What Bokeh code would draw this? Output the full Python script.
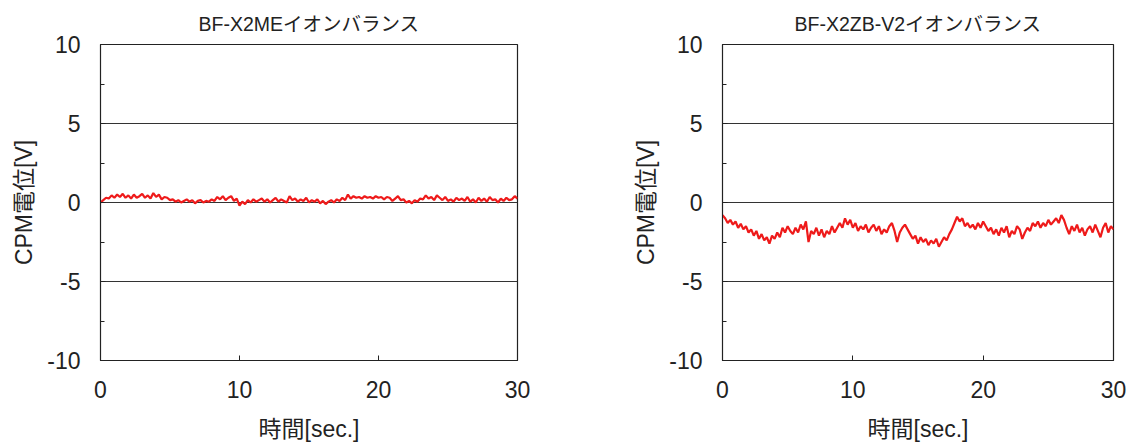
from bokeh.plotting import figure
from bokeh.layouts import row
from bokeh.models import FixedTicker, Range1d
from bokeh.embed import file_html
from bokeh.resources import INLINE

# ---- data ----
titles = ["BF-X2MEイオンバランス", "BF-X2ZB-V2イオンバランス"]
x_label = "時間[sec.]"
y_label = "CPM電位[V]"
x_ticks = [0, 10, 20, 30]
y_ticks = [-10, -5, 0, 5, 10]
y_tick_labels = ["-10", "-5", "0", "5", "10"]
y_minor = [-7.5, -2.5, 2.5, 7.5]
grid_levels = [-5, 0, 5]
sample_step = 0.2  # seconds between samples

me_values = [
    0.0, 0.15, 0.3, 0.25, 0.45, 0.3,
    0.5, 0.35, 0.55, 0.3, 0.45,
    0.25, 0.5, 0.3, 0.4, 0.55,
    0.3, 0.45, 0.25, 0.6, 0.35,
    0.5, 0.2, 0.35, 0.3, 0.15,
    0.2, 0.05, 0.15, 0.0, 0.1,
    0.2, 0.05, 0.15, -0.05, 0.1,
    0.15, 0.0, 0.1, 0.05, 0.2,
    0.1, 0.35, 0.2, 0.4, 0.15,
    0.3, 0.4, 0.1, 0.25, -0.2,
    0.05, -0.1, 0.15, 0.0, 0.2,
    0.05, 0.15, 0.25, 0.05, 0.2,
    0.0, 0.15, 0.3, 0.05, 0.2,
    0.1, 0.0, 0.4, 0.15, 0.25,
    0.05, 0.2, 0.1, 0.3, 0.0,
    0.15, 0.05, 0.2, -0.05, 0.1,
    -0.1, 0.05, 0.15, 0.0, 0.2,
    0.1, 0.3, 0.15, 0.5, 0.25,
    0.4, 0.3, 0.35, 0.25, 0.4,
    0.3, 0.35, 0.25, 0.4, 0.3,
    0.35, 0.2, 0.35, 0.3, 0.1,
    0.25, 0.4, 0.15, 0.2, 0.0,
    0.1, -0.05, 0.15, 0.05, 0.25,
    0.2, 0.45, 0.25, 0.35, 0.15,
    0.45, 0.3, 0.15, 0.35, 0.1,
    0.2, 0.05, 0.3, 0.15, 0.25,
    0.1, 0.35, 0.05, 0.2, 0.0,
    0.3, 0.1, 0.25, 0.05, 0.35,
    0.15, 0.2, 0.0, 0.25, 0.1,
    0.3, 0.15, 0.2, 0.4, 0.25,
]

zb_values = [
    -0.8, -1.0, -1.3, -1.1, -1.4, -1.2,
    -1.6, -1.35, -1.7, -1.5, -1.9,
    -1.7, -2.1, -1.8, -2.3, -2.0,
    -2.4, -2.2, -2.6, -2.1, -2.3,
    -1.9, -2.2, -1.6, -1.9, -1.5,
    -1.8, -2.0, -1.6, -1.9, -1.4,
    -1.7, -1.2, -2.5, -1.8, -2.0,
    -1.6, -2.1, -1.7, -2.2, -1.8,
    -2.0, -1.5, -1.9, -1.6, -1.3,
    -1.6, -1.0, -1.4, -1.1, -1.6,
    -1.3, -1.8, -1.5, -1.7, -1.4,
    -1.9, -1.6, -1.4, -1.8, -1.5,
    -2.0, -1.7, -1.9, -1.5, -1.3,
    -1.8, -2.5, -1.9, -1.6, -1.4,
    -1.7, -2.0, -2.3, -2.1, -2.6,
    -2.2, -2.5, -2.3, -2.7, -2.4,
    -2.6, -2.3, -2.8, -2.5, -2.2,
    -2.4, -2.0, -1.7, -1.3, -0.9,
    -1.2, -1.0, -1.5, -1.3, -1.6,
    -1.4, -1.7, -1.3, -1.6, -1.2,
    -1.5, -1.8, -1.6, -2.0, -1.7,
    -2.1, -1.6, -1.9, -1.5, -2.2,
    -1.8, -2.0, -1.5, -1.7, -2.3,
    -1.9, -1.6, -1.8, -1.3, -1.5,
    -1.2, -1.6, -1.3, -1.5, -1.1,
    -1.4, -1.2, -1.0, -1.3, -0.8,
    -1.1, -1.6, -2.0, -1.5, -1.8,
    -1.4, -1.9, -1.6, -2.1, -1.7,
    -1.5, -1.9, -1.4, -1.8, -2.2,
    -1.6, -1.3, -1.9, -1.5, -1.7,
]

time_sec = [round(i * sample_step, 1) for i in range(len(me_values))]

LATIN = "Liberation Sans, Noto Sans CJK JP"
INK = "#222222"


def make_panel(title, values, width, height, left, right, top, bottom):
    p = figure(width=width, height=height,
               x_range=Range1d(0, 30), y_range=Range1d(-10, 10),
               output_backend="svg", toolbar_location=None,
               min_border_left=left, min_border_right=right,
               min_border_top=top, min_border_bottom=bottom)
    p.background_fill_color = "white"
    p.border_fill_color = "white"
    p.outline_line_color = INK
    p.outline_line_width = 1.2

    p.title.text = title
    p.title.align = "center"
    p.title.text_font = LATIN
    p.title.text_font_size = "19.5px"
    p.title.text_font_style = "normal"
    p.title.text_color = INK
    p.title.standoff = 20

    p.xgrid.visible = False
    p.ygrid.ticker = FixedTicker(ticks=grid_levels)
    p.ygrid.grid_line_color = "#333333"
    p.ygrid.grid_line_width = 1

    for ax in (p.xaxis[0], p.yaxis[0]):
        ax.axis_line_color = INK
        ax.major_tick_line_color = INK
        ax.minor_tick_line_color = INK
        ax.major_tick_in = 5
        ax.major_tick_out = 0
        ax.minor_tick_in = 4
        ax.minor_tick_out = 0
        ax.major_label_text_font = LATIN
        ax.major_label_text_font_size = "23px"
        ax.major_label_text_color = INK
        ax.axis_label_text_font = LATIN
        ax.axis_label_text_font_size = "23px"
        ax.axis_label_text_font_style = "normal"
        ax.axis_label_text_color = INK

    p.xaxis.ticker = FixedTicker(ticks=x_ticks)
    p.xaxis.major_label_standoff = 20
    p.xaxis.axis_label = x_label
    p.xaxis.axis_label_standoff = 15

    p.yaxis.ticker = FixedTicker(ticks=y_ticks, minor_ticks=y_minor)
    p.yaxis.major_label_overrides = dict(zip(y_ticks, y_tick_labels))
    p.yaxis.major_label_standoff = 20
    p.yaxis.axis_label = y_label
    p.yaxis.axis_label_standoff = 7

    p.line(time_sec, values, line_color="#ee1a1a", line_width=2.2)
    return p


# left panel: frame x 100..517 ; right panel: frame x 722..1113
p1 = make_panel(titles[0], me_values, 560, 447, 100, 43, 43, 87)
p2 = make_panel(titles[1], zb_values, 574, 447, 162, 21, 43, 87)

layout = row(p1, p2)
open("out.html", "w").write(file_html(layout, INLINE))
